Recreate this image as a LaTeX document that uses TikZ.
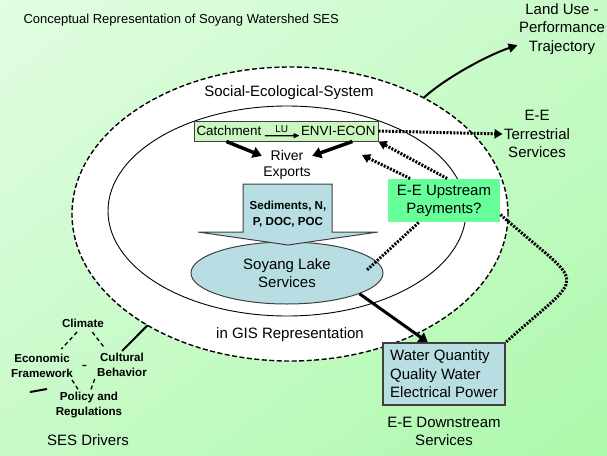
\documentclass[tikz,border=0pt]{standalone}
\usepackage{fontspec}
\setmainfont{Liberation Sans}
\usetikzlibrary{shapes.geometric,arrows.meta,shadings}

\definecolor{bgtop}{RGB}{226,253,226}
\definecolor{bgmid}{RGB}{200,250,200}
\definecolor{bgbot}{RGB}{172,249,172}
\definecolor{catchgreen}{RGB}{202,246,192}
\definecolor{paygreen}{RGB}{102,255,153}
\definecolor{lakeblue}{RGB}{184,222,227}
\definecolor{edgegray}{RGB}{64,64,64}

\tikzset{every picture/.style={line width=1pt}}
\tikzset{
  lbl/.style={inner sep=1pt, align=center, font=\fontsize{15}{18.5}\selectfont},
  drv/.style={inner sep=2pt, align=center, font=\bfseries\fontsize{11.6}{14.5}\selectfont},
  sesring/.style={ellipse, draw, fill=white, line width=1.4pt, dash pattern=on 5pt off 2.5pt,
    minimum width=436pt, minimum height=294pt, inner sep=0pt, outer sep=0pt},
  gisring/.style={ellipse, draw, line width=0.9pt,
    minimum width=358pt, minimum height=210pt, inner sep=0pt, outer sep=0pt},
  fatarrow/.style={line width=3.5pt, -{Triangle[length=9pt,width=11pt]}},
  dotarrow/.style={line width=3pt, dash pattern=on 2pt off 1.4pt, -{Triangle[length=8pt,width=9pt]}},
  dotline/.style={line width=3pt, dash pattern=on 2pt off 1.4pt},
  drvlink/.style={line width=1.3pt, dash pattern=on 4pt off 3pt},
}

\begin{document}
\begin{tikzpicture}[x=1pt,y=1pt,yscale=-1,xscale=1]
\useasboundingbox (0,0) rectangle (607,455);

%Shape: Rectangle (background)
\shade[upper left=bgtop, lower right=bgbot, upper right=bgmid, lower left=bgmid] (0,0) rectangle (607,455);

%Shape: Ellipse
\node[sesring] (ses) at (290,214) {};
%Shape: Ellipse
\node[gisring] (gis) at (287,211) {};

% Text Node
\node[lbl, anchor=west, font=\fontsize{13}{15}\selectfont] (title) at (22,20) {Conceptual Representation of Soyang Watershed SES};
% Text Node
\node[lbl] (lut) at (562,29) {Land Use -\\Performance\\Trajectory};
% Text Node
\node[lbl] (terr) at (537,134) {E-E\\Terrestrial\\Services};
% Text Node
\node[lbl] (sestxt) at (289,93) {Social-Ecological-System};
% Text Node
\node[lbl] (gistxt) at (290,335) {in GIS Representation};

%Shape: Rectangle
\node[draw=edgegray, fill=catchgreen, minimum width=184pt, minimum height=20pt, inner sep=0pt] (catch) at (286,131) {};
% Text Node
\node[lbl, anchor=west, inner sep=2pt, font=\fontsize{13.4}{16}\selectfont] (catchtxt) at (194,131) {Catchment};
% Text Node
\node[lbl, anchor=east, inner sep=1pt, font=\fontsize{13.4}{16}\selectfont] (envi) at (377,131) {ENVI-ECON};
\draw[line width=1.3pt, -{Triangle[length=6pt,width=5pt]}, shorten <=1pt] (catchtxt.base east) -- (envi.base west)
  node[midway, above=1pt, inner sep=1pt, font=\fontsize{10}{12}\selectfont] (lu) {LU};

% Text Node
\node[lbl, font=\fontsize{14}{16}\selectfont] (riv) at (287,165) {River\\Exports};
\draw[fatarrow] (catch.190.7) -- (riv.160);
\draw[fatarrow] (catch.-9.95) -- (riv.20);

%Shape: Ellipse
\node[ellipse, draw=edgegray, fill=lakeblue, minimum width=192pt, minimum height=62pt, inner sep=0pt, align=center,
  font=\fontsize{15}{18}\selectfont] (lake) at (287,273) {Soyang Lake\\Services};

%Shape: Block Arrow
\draw[draw=edgegray, fill=lakeblue] (243,184) -- (332,184) -- (332,232) -- (378,232) -- (288,245) -- (198,232) -- (243,232) -- cycle;
% Text Node
\node[drv, font=\bfseries\fontsize{11.6}{16}\selectfont] (sed) at (288,214) {Sediments, N,\\P, DOC, POC};

%Shape: Rectangle
\node[lbl, fill=paygreen, minimum width=112pt, minimum height=43pt, font=\fontsize{15}{18}\selectfont] (pay) at (444,200.5) {E-E Upstream\\Payments?};

%Shape: Rectangle
\node[draw=edgegray, line width=1.3pt, fill=lakeblue, minimum width=122pt, minimum height=62pt, inner sep=0pt,
  align=left, font=\fontsize{15}{18.5}\selectfont] (wq) at (444,374) {Water Quantity\\Quality Water\\Electrical Power};
% Text Node
\node[lbl, font=\fontsize{15}{18}\selectfont] (down) at (444,431) {E-E Downstream\\Services};

\coordinate (uptip) at (362,155);
\coordinate (lkend) at (367,270);

%Straight Lines
\draw[dotarrow] (catch.east) -- (terr.west);
\draw[dotarrow] (pay.82) -- (catch.south east);
\draw[dotarrow] (pay.147.7) -- (uptip);
\draw[dotline] (pay.221.9) -- (lkend);
\draw[dotline] (pay.-14.5) .. controls (588,292) and (588,268) .. (wq.north east);
\draw[fatarrow, line width=3pt] (lake.-16) -- (wq.117);
\draw[line width=2pt, -{Triangle[length=9pt,width=9pt]}] (ses.41.6) .. controls +(22,-20) and +(-30,10) .. (lut.200);

% Text Node
\node[drv] (clim) at (83,323) {Climate};
% Text Node
\node[drv] (econ) at (42,366) {Economic\\Framework};
% Text Node
\node[drv] (cult) at (122,365) {Cultural\\Behavior};
% Text Node
\node[drv] (pol) at (89,405) {Policy and\\Regulations};
% Text Node
\node[lbl] (sesdrv) at (88,440) {SES Drivers};

\draw[drvlink, shorten <=3pt, shorten >=4pt] (clim.-120) -- (econ.40);
\draw[drvlink, shorten <=3pt, shorten >=3pt] (clim.-42) -- (cult.137);
\draw[drvlink, shorten <=7pt, shorten >=7pt] (econ) -- (cult);
\draw[drvlink] (econ.-25) -- (pol.125);
\draw[drvlink] (cult.south west) -- (pol.83);
\draw[line width=2pt] (ses.218) -- (cult.north);
\draw[line width=2pt] (30,392) .. controls (38,391) .. (47,389);

\end{tikzpicture}
\end{document}
